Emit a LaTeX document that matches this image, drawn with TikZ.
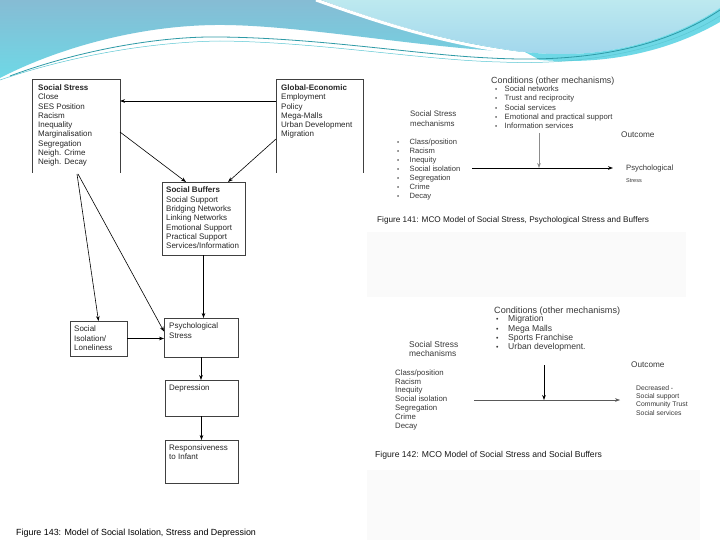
\documentclass[tikz,border=0pt]{standalone}
\usepackage{fontspec}
\setmainfont{Liberation Sans}
\usetikzlibrary{arrows.meta,calc}
\definecolor{hdrblue}{HTML}{86BCD4}
\definecolor{hdrcyan}{HTML}{6ED8E6}
\definecolor{bubtop}{HTML}{BDE9EF}
\definecolor{bubbot}{HTML}{9ED4EC}
\definecolor{tealA}{HTML}{2E9AA6}
\definecolor{tealB}{HTML}{5CC7D3}
\newcommand\mybull[1][10pt]{\makebox[#1][l]{\scalebox{0.8}{•}}}
\begin{document}
\begin{tikzpicture}[x=1pt,y=-1pt,
  box/.style={draw=black!75, line width=0.6pt, anchor=north west, inner sep=0pt, outer sep=0pt},
  openbox/.style={anchor=north west, inner sep=0pt, outer sep=0pt},
  boxline/.style={draw=black!75, line width=0.6pt},
  lbl/.style={anchor=north west, align=left, inner sep=0pt, text=black!85, font=\fontsize{8}{9.3}\selectfont},
  rlbl/.style={anchor=north west, align=left, inner sep=0pt, text=black!78, font=\fontsize{7.7}{9.2}\selectfont},
  arr/.style={-{Stealth[length=5pt,width=3.6pt]}, line width=0.6pt, black}]
\useasboundingbox (0,0) rectangle (720,540);
\fill[white] (0,0) rectangle (720,540);
% faint panels
\fill[black!2] (367,232) rectangle (686,297);
\fill[black!2] (367,470) rectangle (700,540);
% header decoration
\shade[top color=hdrblue, bottom color=hdrcyan] (0,0) -- (322,0) .. controls (390,25) and (450,42) .. (525,52) .. controls (430,50) and (300,24) .. (215,25) .. controls (130,26) and (50,52) .. (0,78) -- cycle;
\shade[top color=bubtop, bottom color=bubbot] (322,0) .. controls (390,25) and (450,42) .. (525,52) .. controls (610,62) and (680,35) .. (720,8) -- (720,0) -- cycle;
\fill[hdrcyan] (525,52) .. controls (610,62) and (680,35) .. (720,8) -- (720,22) .. controls (680,45) and (620,66) .. (540,60) -- cycle;
\draw[white, line width=3pt] (316,0) .. controls (386,25) and (446,44) .. (525,54);
\draw[tealA, line width=0.8pt] (10,76) .. controls (80,50) and (160,36) .. (220,37) .. controls (320,38) and (420,55) .. (490,58) .. controls (580,63) and (660,50) .. (720,10);
\draw[tealB, line width=0.5pt] (0,80) .. controls (70,56) and (150,42) .. (220,41) .. controls (320,42) and (420,60) .. (500,62) .. controls (590,66) and (670,48) .. (720,16);
% ---------------- Figure 143 ----------------
\node[openbox, minimum width=88pt, minimum height=94pt] (ss) at (32,79) {};
\draw[boxline] (ss.south west) -- (ss.north west) -- (ss.north east) -- (ss.south east);
\node[lbl] (sst) at (38,84.5) {\textbf{Social Stress}\\Close\\SES Position\\Racism\\Inequality\\Marginalisation\\Segregation\\Neigh. Crime\\Neigh. Decay};
\node[openbox, minimum width=87pt, minimum height=94pt] (ge) at (276,79) {};
\draw[boxline] (ge.south west) -- (ge.north west) -- (ge.north east) -- (ge.south east);
\node[lbl] (get) at (281,84.5) {\textbf{Global-Economic}\\Employment\\Policy\\Mega-Malls\\Urban Development\\Migration};
\node[box, minimum width=83pt, minimum height=73pt] (sb) at (162,182) {};
\node[lbl] (sbt) at (166,187) {\textbf{Social Buffers}\\Social Support\\Bridging Networks\\Linking Networks\\Emotional Support\\Practical Support\\Services/Information};
\node[box, minimum width=57pt, minimum height=35pt] (si) at (70,321) {};
\node[lbl] (sit) at (74,326) {Social\\Isolation/\\Loneliness};
\node[box, minimum width=74pt, minimum height=39pt] (ps) at (164,318) {};
\node[lbl] (pst) at (169,323) {Psychological\\Stress};
\node[box, minimum width=73pt, minimum height=36pt] (dp) at (165,380) {};
\node[lbl] (dpt) at (169,385) {Depression};
\node[box, minimum width=73pt, minimum height=43pt] (rs) at (165,440) {};
\node[lbl] (rst) at (169,444) {Responsiveness\\to Infant};
\node[lbl, text=black, font=\fontsize{8.9}{10}\selectfont] (cap143) at (16,529) {Figure 143: Model of Social Isolation, Stress and Depression};
\draw[arr] ($(ge.north west)+(0,22)$) -- ($(ss.north east)+(0,22)$);
\draw[arr] ($(ss.north east)+(0,53)$) -- ($(sb.north west)+(24,0)$);
\draw[arr] ($(ge.north west)+(0,60)$) -- ($(sb.north east)+(-17,0)$);
\draw[arr] ($(ss.south)+(1,1)$) -- (si.north);
\draw[arr] ($(ss.south)+(2,1)$) -- ($(ps.west)+(0,-6)$);
\draw[arr] (sb.south) -- (sb.south |- ps.north);
\draw[arr] (si.east) -- (si.east -| ps.west);
\draw[arr] (ps.south) -- (ps.south |- dp.north);
\draw[arr] (dp.south) -- (dp.south |- rs.north);
% ---------------- Figure 141 ----------------
\node[rlbl, font=\fontsize{8.9}{10}\selectfont] (c141) at (491,77) {Conditions (other mechanisms)};
\node[rlbl] (c141l) at (495,86) {\mybull[9.5pt]Social networks\\\mybull[9.5pt]Trust and reciprocity\\\mybull[9.5pt]Social services\\\mybull[9.5pt]Emotional and practical support\\\mybull[9.5pt]Information services};
\node[rlbl, font=\fontsize{7.9}{9.4}\selectfont] (m141) at (410,111) {Social Stress\\mechanisms};
\node[rlbl, font=\fontsize{8.2}{9.4}\selectfont] (o141) at (621,132) {Outcome};
\node[rlbl, font=\fontsize{7.6}{9}\selectfont] (l141) at (397,139) {\mybull[12.5pt]Class/position\\\mybull[12.5pt]Racism\\\mybull[12.5pt]Inequity\\\mybull[12.5pt]Social isolation\\\mybull[12.5pt]Segregation\\\mybull[12.5pt]Crime\\\mybull[12.5pt]Decay};
\node[rlbl, font=\fontsize{7.7}{9}\selectfont] (p141) at (626,165) {Psychological};
\node[rlbl, font=\fontsize{5.5}{7}\selectfont] (s141) at (626,178) {Stress};
\node[rlbl, text=black!90, font=\fontsize{8.2}{9.4}\selectfont] (cap141) at (377,216) {Figure 141: MCO Model of Social Stress, Psychological Stress and Buffers};
\coordinate (h1a) at (472,168);
\coordinate (h1b) at (613,168);
\coordinate (v1a) at (539,133);
\draw[arr, line width=0.8pt] (h1a) -- (h1b);
\draw[arr, draw=black!45] (v1a) -- (v1a |- h1a);
% ---------------- Figure 142 ----------------
\node[rlbl, font=\fontsize{9.1}{10}\selectfont] (c142) at (494,306.5) {Conditions (other mechanisms)};
\node[rlbl, font=\fontsize{8.6}{9.3}\selectfont] (c142l) at (496,315.5) {\mybull[12pt]Migration\\\mybull[12pt]Mega Malls\\\mybull[12pt]Sports Franchise\\\mybull[12pt]Urban development.};
\node[rlbl, font=\fontsize{8.4}{9.2}\selectfont] (m142) at (409,341.5) {Social Stress\\mechanisms};
\node[rlbl, font=\fontsize{8.2}{9.4}\selectfont] (o142) at (631,361.5) {Outcome};
\node[rlbl, font=\fontsize{7.8}{8.8}\selectfont] (l142) at (395,369.5) {Class/position\\Racism\\Inequity\\Social isolation\\Segregation\\Crime\\Decay};
\node[rlbl, font=\fontsize{6.8}{8.3}\selectfont] (d142) at (636,385) {Decreased -\\Social support\\Community Trust\\Social services};
\node[rlbl, text=black!90, font=\fontsize{8.6}{9.6}\selectfont] (cap142) at (375,451.5) {Figure 142: MCO Model of Social Stress and Social Buffers};
\coordinate (h2a) at (474,400);
\coordinate (h2b) at (620,400);
\coordinate (v2a) at (544,365);
\draw[arr, draw=black!65, line width=0.5pt] (h2a) -- (h2b);
\draw[arr] (v2a) -- (v2a |- h2a);
\end{tikzpicture}
\end{document}
